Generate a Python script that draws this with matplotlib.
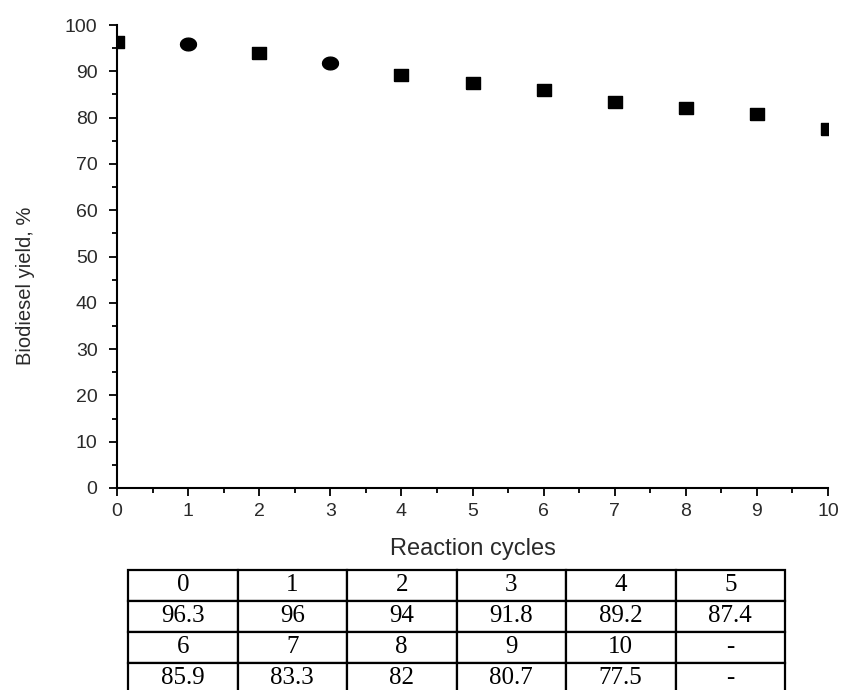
import math
import matplotlib
matplotlib.use("Agg")
import matplotlib.pyplot as plt
from matplotlib.ticker import MultipleLocator

cycles = [0, 1, 2, 3, 4, 5, 6, 7, 8, 9, 10]
yields = [96.3, 96, 94, 91.8, 89.2, 87.4, 85.9, 83.3, 82, 80.7, 77.5]
round_idx = [1, 3]  # points drawn with rounded markers in the original

table_rows = [
    ["0", "1", "2", "3", "4", "5"],
    ["96.3", "96", "94", "91.8", "89.2", "87.4"],
    ["6", "7", "8", "9", "10", "-"],
    ["85.9", "83.3", "82", "80.7", "77.5", "-"],
]

W, H = 844, 690
fig = plt.figure(figsize=(W / 100, H / 100), dpi=100)
ax = fig.add_axes([117 / W, 1 - 488 / H, (828 - 117) / W, (488 - 25) / H])

rect = [(-1.2, -1), (1.2, -1), (1.2, 1), (-1.2, 1), (-1.2, -1)]
ellipse = [(1.25 * math.cos(t / 24 * 2 * math.pi), math.sin(t / 24 * 2 * math.pi))
           for t in range(25)]
sq_x = [c for i, c in enumerate(cycles) if i not in round_idx]
sq_y = [v for i, v in enumerate(yields) if i not in round_idx]
rd_x = [cycles[i] for i in round_idx]
rd_y = [yields[i] for i in round_idx]
ax.plot(sq_x, sq_y, linestyle="none", marker=rect, markersize=10,
        color="black", clip_on=True)
ax.plot(rd_x, rd_y, linestyle="none", marker=ellipse, markersize=11.5,
        color="black", clip_on=True)

ax.set_xlim(0, 10)
ax.set_ylim(0, 100)
ax.xaxis.set_major_locator(MultipleLocator(1))
ax.xaxis.set_minor_locator(MultipleLocator(0.5))
ax.yaxis.set_major_locator(MultipleLocator(10))
ax.yaxis.set_minor_locator(MultipleLocator(5))
for s in ["top", "right"]:
    ax.spines[s].set_visible(False)
for s in ["left", "bottom"]:
    ax.spines[s].set_linewidth(1.5)
ax.tick_params(which="major", direction="out", length=6, width=1.3,
               labelsize=14, labelcolor="#2a2a2a")
ax.tick_params(axis="y", which="major", pad=8)
ax.tick_params(axis="x", which="major", pad=5)
ax.tick_params(which="minor", direction="out", length=3.5, width=1.3)
for lab in ax.get_xticklabels() + ax.get_yticklabels():
    lab.set_fontfamily("Liberation Sans")

ax.set_xlabel("Reaction cycles", fontsize=17, family="Liberation Sans",
              color="#2a2a2a")
ax.set_ylabel("Biodiesel yield, %", fontsize=14.5, family="Liberation Sans",
              color="#2a2a2a")
ax.xaxis.set_label_coords(0.5, (488 - 549) / 463)
ax.xaxis.label.set_va("center")
ax.yaxis.set_label_coords((26 - 117) / 711, (488 - 286) / 463)
ax.yaxis.label.set_va("center")

tax = fig.add_axes([128 / W, 1 - 694 / H, (785 - 128) / W, (694 - 570) / H])
tax.axis("off")
tbl = tax.table(cellText=table_rows, cellLoc="center", bbox=[0, 0, 1, 1])
tbl.auto_set_font_size(False)
for (r, c), cell in tbl.get_celld().items():
    cell.set_linewidth(1.6)
    cell.set_edgecolor("black")
    cell.get_text().set_fontsize(18)
    cell.get_text().set_fontfamily("Liberation Serif")

fig.savefig("out.png", dpi=100)
